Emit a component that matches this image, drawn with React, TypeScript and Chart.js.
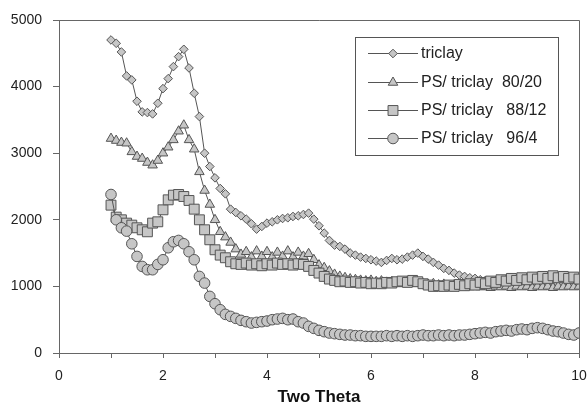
import { useEffect, useRef } from "react";
import { Chart, registerables } from "chart.js";

Chart.register(...registerables);

// Diffraction angle (two theta) for every sample point
const twoTheta = [
  1.0, 1.1, 1.2, 1.3, 1.4, 1.5, 1.6, 1.7, 1.8, 1.9,
  2.0, 2.1, 2.2, 2.3, 2.4, 2.5, 2.6, 2.7, 2.8, 2.9,
  3.0, 3.1, 3.2, 3.3, 3.4, 3.5, 3.6, 3.7, 3.8, 3.9,
  4.0, 4.1, 4.2, 4.3, 4.4, 4.5, 4.6, 4.7, 4.8, 4.9,
  5.0, 5.1, 5.2, 5.3, 5.4, 5.5, 5.6, 5.7, 5.8, 5.9,
  6.0, 6.1, 6.2, 6.3, 6.4, 6.5, 6.6, 6.7, 6.8, 6.9,
  7.0, 7.1, 7.2, 7.3, 7.4, 7.5, 7.6, 7.7, 7.8, 7.9,
  8.0, 8.1, 8.2, 8.3, 8.4, 8.5, 8.6, 8.7, 8.8, 8.9,
  9.0, 9.1, 9.2, 9.3, 9.4, 9.5, 9.6, 9.7, 9.8, 9.9,
  10.0,
];

const triclay = [
  4700, 4650, 4520, 4160, 4100, 3780, 3620, 3610, 3590, 3750,
  3970, 4120, 4300, 4450, 4560, 4280, 3900, 3550, 3000, 2800,
  2630, 2470, 2390, 2160, 2110, 2060, 2010, 1940, 1860, 1900,
  1950, 1970, 2000, 2020, 2030, 2050, 2060, 2080, 2100, 2010,
  1910, 1800, 1690, 1620, 1600, 1560, 1500, 1470, 1440, 1420,
  1400, 1380, 1360, 1390, 1420, 1400, 1410, 1440, 1470, 1500,
  1450, 1410, 1360, 1320, 1270, 1240, 1200, 1170, 1150, 1130,
  1120, 1100, 1090, 1080, 1070, 1070, 1060, 1060, 1050, 1060,
  1050, 1050, 1040, 1050, 1040, 1050, 1040, 1040, 1050, 1040,
  1040,
];

const ps8020 = [
  3220, 3190, 3160, 3150, 3020, 2950, 2920, 2860, 2820, 2890,
  3000, 3090, 3200, 3330, 3420, 3200, 3060, 2720, 2440, 2230,
  2000, 1820, 1740, 1660, 1560, 1480, 1520, 1440, 1530, 1450,
  1520, 1440, 1510, 1450, 1530, 1440, 1510, 1450, 1490, 1400,
  1320, 1280, 1230, 1180, 1150, 1130, 1110, 1100, 1090, 1080,
  1090, 1070, 1080, 1060, 1070, 1060, 1050, 1060, 1040, 1050,
  1040, 1030, 1040, 1020, 1030, 1010, 1020, 1000, 1010, 990,
  1000, 990, 1000, 980, 1000, 990, 1000, 980, 1000, 990,
  1000, 980, 1000, 990, 1000, 980, 1000, 990, 1000, 990,
  1000,
];

const ps8812 = [
  2220, 2040, 2000, 1950, 1920, 1880, 1850, 1820, 1950, 1970,
  2150, 2300, 2370, 2380, 2350, 2290, 2160, 2000, 1850, 1700,
  1550, 1470, 1430, 1370, 1340, 1330, 1350, 1320, 1340, 1310,
  1340, 1320, 1350, 1330, 1340, 1320, 1340, 1330, 1300, 1240,
  1200, 1150, 1110, 1090, 1070, 1080, 1060, 1070, 1050, 1060,
  1040, 1050, 1040, 1060, 1050, 1070, 1080, 1060, 1090, 1070,
  1040, 1020, 1000, 1010, 1000, 1020, 1000, 1030, 1010, 1040,
  1020, 1060, 1040, 1080, 1060, 1100, 1080, 1120, 1090, 1130,
  1100, 1140, 1110, 1150, 1120, 1160, 1130, 1150, 1120, 1140,
  1110,
];

const ps964 = [
  2380, 2000, 1880, 1830, 1640, 1450, 1300, 1250, 1250, 1330,
  1400, 1580, 1670, 1690, 1640, 1520, 1400, 1150, 1050, 850,
  740, 650, 580, 550, 520, 490, 470, 450, 460, 470,
  480, 500, 510, 520, 500, 510, 470, 450, 400, 370,
  340, 320, 300, 290, 280, 270, 270, 260, 260, 250,
  250, 250, 250, 260, 250, 260, 250, 260, 250, 260,
  270, 260, 260, 270, 260, 270, 260, 270, 270, 280,
  290, 300, 310, 300, 320, 330, 340, 330, 350, 360,
  350, 370, 380, 370, 350, 330, 320, 300, 280, 270,
  300,
];

const seriesLabels = [
  "triclay",
  "PS/ triclay  80/20",
  "PS/ triclay   88/12",
  "PS/ triclay   96/4",
];

const xTickValues = [0, 2, 4, 6, 8, 10];

const AXIS = "#666666";
const LINE = "#555555";
const FILL = "#c6c6c6";
const TEXT = "#222222";
const FONT = "'Liberation Sans', Arial, Helvetica, sans-serif";

type Marker = { style: string; radius: number };
const markers: Marker[] = [
  { style: "rectRot", radius: 4.3 },
  { style: "triangle", radius: 5.5 },
  { style: "rect", radius: 7 },
  { style: "circle", radius: 5.3 },
];

function drawMarker(ctx: CanvasRenderingContext2D, m: Marker, x: number, y: number) {
  const r = m.radius;
  ctx.beginPath();
  if (m.style === "circle") {
    ctx.arc(x, y, r, 0, Math.PI * 2);
  } else if (m.style === "rect") {
    const s = r * Math.SQRT1_2;
    ctx.rect(x - s, y - s, 2 * s, 2 * s);
  } else if (m.style === "rectRot") {
    ctx.moveTo(x, y - r);
    ctx.lineTo(x + r, y);
    ctx.lineTo(x, y + r);
    ctx.lineTo(x - r, y);
    ctx.closePath();
  } else {
    const h = r * 0.866;
    ctx.moveTo(x, y - r);
    ctx.lineTo(x + h, y + r / 2);
    ctx.lineTo(x - h, y + r / 2);
    ctx.closePath();
  }
  ctx.fillStyle = FILL;
  ctx.fill();
  ctx.strokeStyle = LINE;
  ctx.lineWidth = 1;
  ctx.stroke();
}

// Closes the plot frame on the top and right, and draws the boxed key
const frameAndKey = {
  id: "frameAndKey",
  afterDatasetsDraw(chart: any) {
    const { ctx, chartArea: a } = chart;
    ctx.save();
    ctx.strokeStyle = AXIS;
    ctx.lineWidth = 1;
    ctx.beginPath();
    ctx.moveTo(a.left, a.top + 0.5);
    ctx.lineTo(a.right + 0.5, a.top + 0.5);
    ctx.lineTo(a.right + 0.5, a.bottom);
    ctx.stroke();

    const bx = 355.5, by = 37.5, bw = 203, bh = 118;
    ctx.fillStyle = "#ffffff";
    ctx.fillRect(bx, by, bw, bh);
    ctx.strokeStyle = LINE;
    ctx.strokeRect(bx, by, bw, bh);

    const rows = [53, 82, 110, 138];
    ctx.font = `16px ${FONT}`;
    ctx.textBaseline = "middle";
    seriesLabels.forEach((label, i) => {
      const y = rows[i];
      ctx.strokeStyle = LINE;
      ctx.lineWidth = 1;
      ctx.beginPath();
      ctx.moveTo(368, y + 0.5);
      ctx.lineTo(418, y + 0.5);
      ctx.stroke();
      drawMarker(ctx, markers[i], 393, y + 0.5);
      ctx.fillStyle = TEXT;
      ctx.fillText(label, 421, y + 1);
    });
    ctx.restore();
  },
};

const seriesValues = [triclay, ps8020, ps8812, ps964];

export default function App() {
  const canvasRef = useRef<HTMLCanvasElement | null>(null);

  useEffect(() => {
    const canvas = canvasRef.current;
    if (!canvas) return;

    const datasets = seriesValues.map((values, i) => ({
      label: seriesLabels[i],
      data: values.map((v, j) => ({ x: twoTheta[j], y: v })),
      borderColor: LINE,
      borderWidth: 1,
      backgroundColor: FILL,
      pointStyle: markers[i].style,
      pointRadius: markers[i].radius,
      pointBackgroundColor: FILL,
      pointBorderColor: LINE,
      pointBorderWidth: 1,
      tension: 0,
      fill: false,
      order: seriesValues.length - i,
    }));

    const chart = new Chart(canvas, {
      type: "line",
      data: { datasets },
      plugins: [frameAndKey],
      options: {
        animation: false,
        responsive: false,
        maintainAspectRatio: false,
        layout: { padding: { top: 20, right: 8, bottom: 0, left: 0 } },
        plugins: { legend: { display: false }, tooltip: { enabled: false } },
        scales: {
          x: {
            type: "linear",
            min: 0,
            max: 10,
            afterFit: (s: any) => {
              s.height = 55;
              s.paddingLeft = 0;
              s.paddingRight = 0;
            },
            ticks: {
              stepSize: 1,
              autoSkip: false,
              maxRotation: 0,
              padding: 10,
              color: TEXT,
              font: { family: FONT, size: 14 },
              callback: (v: any) => (xTickValues.includes(Number(v)) ? String(v) : ""),
            },
            grid: {
              drawOnChartArea: false,
              drawTicks: true,
              tickLength: 5,
              color: AXIS,
            },
            border: { display: true, color: AXIS, width: 1 },
            title: {
              display: true,
              text: "Two Theta",
              color: "#111111",
              font: { family: FONT, size: 17, weight: "bold" },
              padding: { top: 0, bottom: 0 },
            },
          },
          y: {
            type: "linear",
            min: 0,
            max: 5000,
            afterFit: (s: any) => {
              s.width = 59;
              s.paddingTop = 0;
              s.paddingBottom = 0;
            },
            ticks: {
              stepSize: 1000,
              padding: 11,
              color: TEXT,
              font: { family: FONT, size: 14 },
              callback: (v: any) => String(v),
            },
            grid: {
              drawOnChartArea: false,
              drawTicks: true,
              tickLength: 6,
              color: AXIS,
            },
            border: { display: true, color: AXIS, width: 1 },
          },
        },
      } as any,
    });

    return () => chart.destroy();
  }, []);

  return (
    <div style={{ position: "absolute", left: 0, top: 0, width: 587, height: 408, background: "#fff" }}>
      <canvas ref={canvasRef} width={587} height={408} style={{ display: "block" }} />
    </div>
  );
}
